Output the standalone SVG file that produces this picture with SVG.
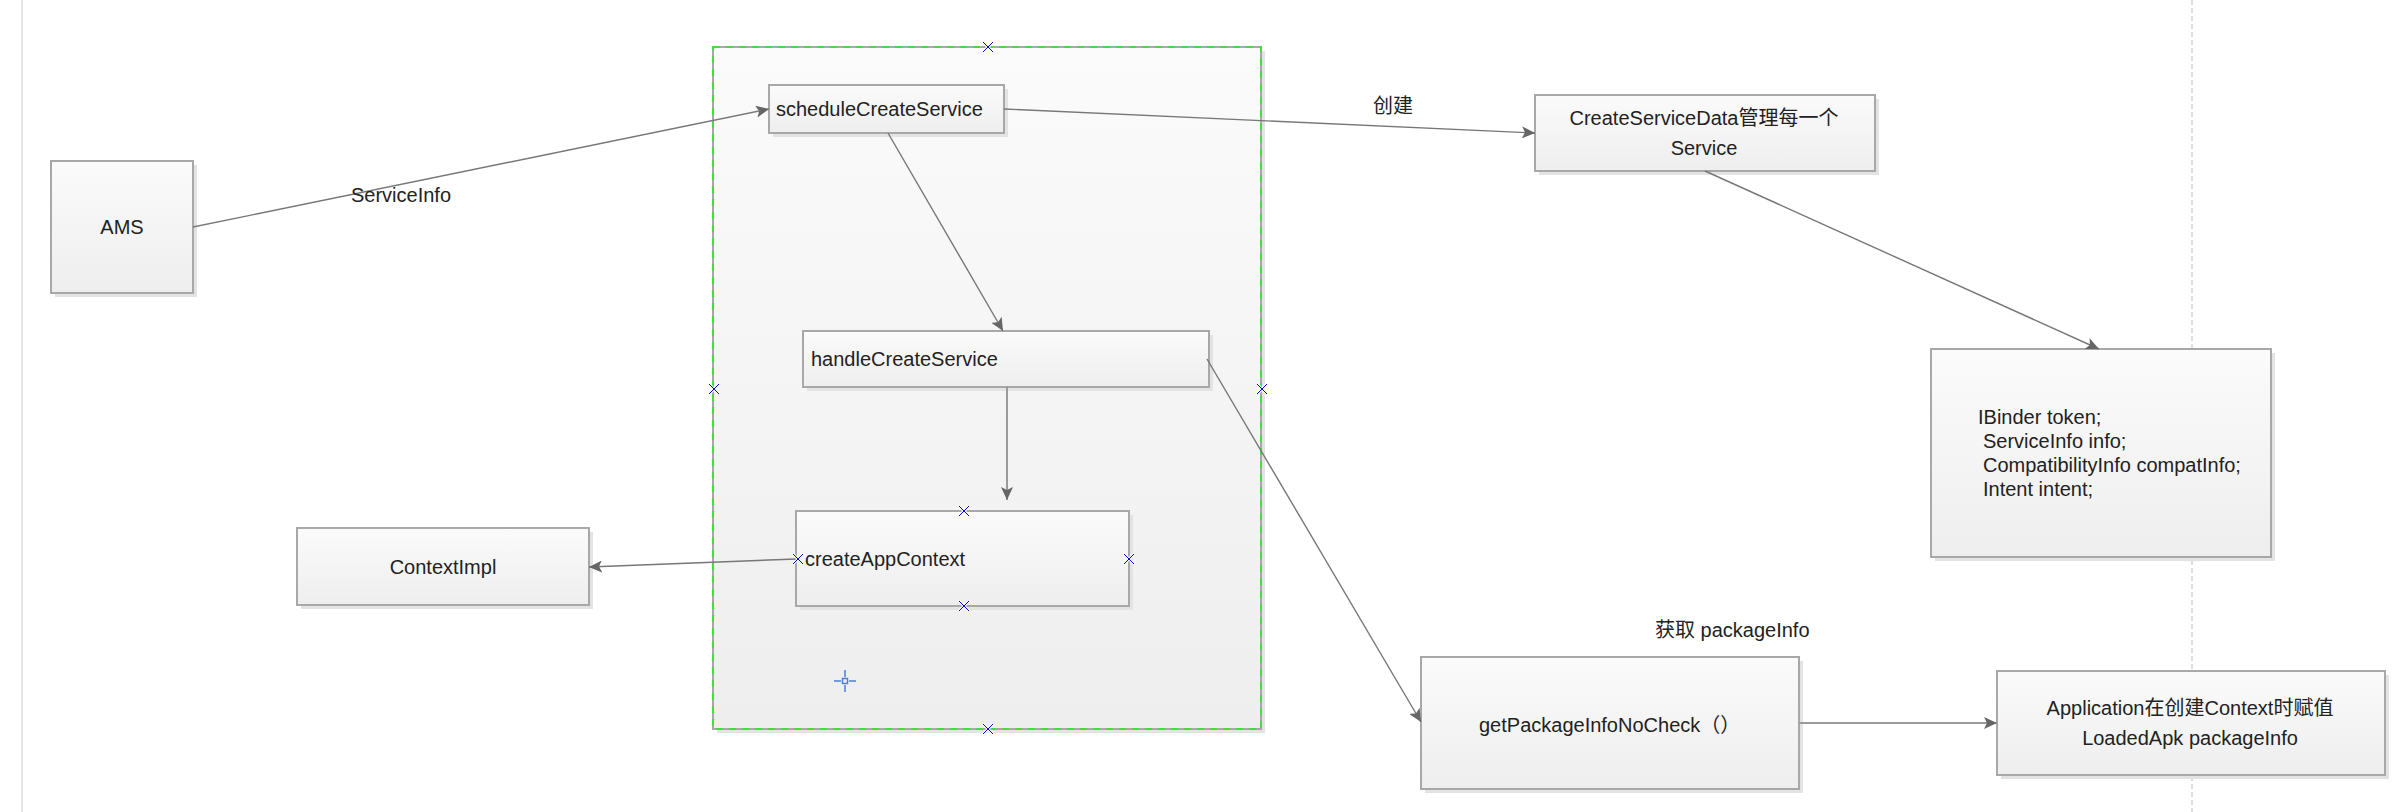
<svg xmlns="http://www.w3.org/2000/svg" xmlns:xlink="http://www.w3.org/1999/xlink" width="2394" height="812" viewBox="0 0 2394 812">
<style>
  .box { fill: url(#g); stroke: #a8a8a8; stroke-width: 2; }
  .shadow { fill: #e3e3e3; }
  .t { font-family: "Liberation Sans", Helvetica, Arial, "Noto Sans CJK SC", sans-serif; font-size: 20px; fill: #222; }
  .c { text-anchor: middle; }
  .edge { stroke: #777; stroke-width: 1.4; fill: none; marker-end: url(#arr); }
  .edge2 { stroke: #9a9a9a; stroke-width: 2; fill: none; marker-end: url(#arr); }
  .hx1 { stroke: #fff; stroke-width: 3; stroke-opacity: 0.8; }
  .hx2 { stroke: #0000dd; stroke-width: 1; }
</style>
<defs>
  <linearGradient id="g" x1="0" y1="0" x2="0" y2="1">
    <stop offset="0" stop-color="#fbfbfb"/>
    <stop offset="1" stop-color="#eeeeee"/>
  </linearGradient>
  <marker id="arr" markerUnits="userSpaceOnUse" markerWidth="14" markerHeight="12" refX="13" refY="6" orient="auto">
    <path d="M0,0 L13,6 L0,12 L3,6 z" fill="#666"/>
  </marker>
  <symbol id="hx" viewBox="-6 -6 12 12" overflow="visible">
    <path class="hx1" d="M-5,-5 L5,5 M5,-5 L-5,5"/>
    <path class="hx2" d="M-5,-5 L5,5 M5,-5 L-5,5"/>
  </symbol>
</defs>
<rect x="0" y="0" width="2394" height="812" fill="#fff"/>
<line x1="22" y1="0" x2="22" y2="812" stroke="#dcdcdc" stroke-width="1.5"/>
<line x1="2192" y1="0" x2="2192" y2="812" stroke="#bdbdbd" stroke-width="1" stroke-dasharray="5,3"/>

<g id="container">
  <rect class="shadow" x="717" y="51" width="548" height="682"/>
  <rect x="713" y="47" width="548" height="682" fill="url(#g)" stroke="#a8a8a8" stroke-width="2"/>
  <rect x="713" y="47" width="548" height="682" fill="none" stroke="#22ee22" stroke-width="1.5" stroke-dasharray="7,6"/>
</g>

<g id="ams">
  <rect class="shadow" x="55" y="165" width="142" height="132"/>
  <rect class="box" x="51" y="161" width="142" height="132"/>
  <text class="t c" x="122" y="234">AMS</text>
</g>

<g id="scheduleCreateService">
  <rect class="shadow" x="773" y="89" width="235" height="48"/>
  <rect class="box" x="769" y="85" width="235" height="48"/>
  <text class="t" x="776" y="116">scheduleCreateService</text>
</g>

<g id="handleCreateService">
  <rect class="shadow" x="807" y="335" width="406" height="56"/>
  <rect class="box" x="803" y="331" width="406" height="56"/>
  <text class="t" x="811" y="366">handleCreateService</text>
</g>

<g id="createAppContext">
  <rect class="shadow" x="800" y="515" width="333" height="95"/>
  <rect class="box" x="796" y="511" width="333" height="95"/>
  <text class="t" x="805" y="566">createAppContext</text>
</g>

<g id="contextImpl">
  <rect class="shadow" x="301" y="532" width="292" height="77"/>
  <rect class="box" x="297" y="528" width="292" height="77"/>
  <text class="t c" x="443" y="574">ContextImpl</text>
</g>

<g id="createServiceData">
  <rect class="shadow" x="1539" y="99" width="340" height="76"/>
  <rect class="box" x="1535" y="95" width="340" height="76"/>
  <text class="t c" x="1704" y="125">CreateServiceData管理每一个</text>
  <text class="t c" x="1704" y="155">Service</text>
</g>

<g id="fields">
  <rect class="shadow" x="1935" y="353" width="340" height="208"/>
  <rect class="box" x="1931" y="349" width="340" height="208"/>
  <text class="t" x="1978" y="424">IBinder token;</text>
  <text class="t" x="1983" y="448">ServiceInfo info;</text>
  <text class="t" x="1983" y="472">CompatibilityInfo compatInfo;</text>
  <text class="t" x="1983" y="496">Intent intent;</text>
</g>

<g id="getPackageInfoNoCheck">
  <rect class="shadow" x="1425" y="661" width="378" height="132"/>
  <rect class="box" x="1421" y="657" width="378" height="132"/>
  <text class="t" x="1479" y="732">getPackageInfoNoCheck（）</text>
</g>

<g id="application">
  <rect class="shadow" x="2001" y="675" width="388" height="104"/>
  <rect class="box" x="1997" y="671" width="388" height="104"/>
  <text class="t c" x="2190" y="715">Application在创建Context时赋值</text>
  <text class="t c" x="2190" y="745">LoadedApk packageInfo</text>
</g>

<g id="connectors">
  <line class="edge" x1="193" y1="227" x2="769" y2="109"/>
  <text class="t" x="351" y="202">ServiceInfo</text>
  <line class="edge" x1="1004" y1="109" x2="1535" y2="133"/>
  <text class="t c" x="1393" y="113">创建</text>
  <line class="edge" x1="888" y1="133" x2="1003" y2="331"/>
  <line class="edge" x1="1705" y1="171" x2="2099" y2="349"/>
  <line class="edge2" x1="1007" y1="387" x2="1007" y2="500"/>
  <line class="edge" x1="1207" y1="359" x2="1421" y2="722"/>
  <line class="edge" x1="796" y1="559" x2="589" y2="567"/>
  <text class="t" x="1655" y="637">获取 packageInfo</text>
  <line class="edge2" x1="1799" y1="723" x2="1997" y2="723"/>
</g>

<g id="handles">
  <use xlink:href="#hx" x="982" y="41" width="12" height="12"/>
  <use xlink:href="#hx" x="708" y="383" width="12" height="12"/>
  <use xlink:href="#hx" x="1256" y="383" width="12" height="12"/>
  <use xlink:href="#hx" x="982" y="723" width="12" height="12"/>
  <use xlink:href="#hx" x="958" y="505" width="12" height="12"/>
  <use xlink:href="#hx" x="792" y="553" width="12" height="12"/>
  <use xlink:href="#hx" x="1123" y="553" width="12" height="12"/>
  <use xlink:href="#hx" x="958" y="600" width="12" height="12"/>
  <g stroke="#4a80d8" stroke-width="1.5" fill="none">
    <rect x="842.5" y="678.5" width="5" height="5"/>
    <path d="M845,670 V677 M845,685 V692 M834,681 H841 M849,681 H856"/>
  </g>
</g>
</svg>
